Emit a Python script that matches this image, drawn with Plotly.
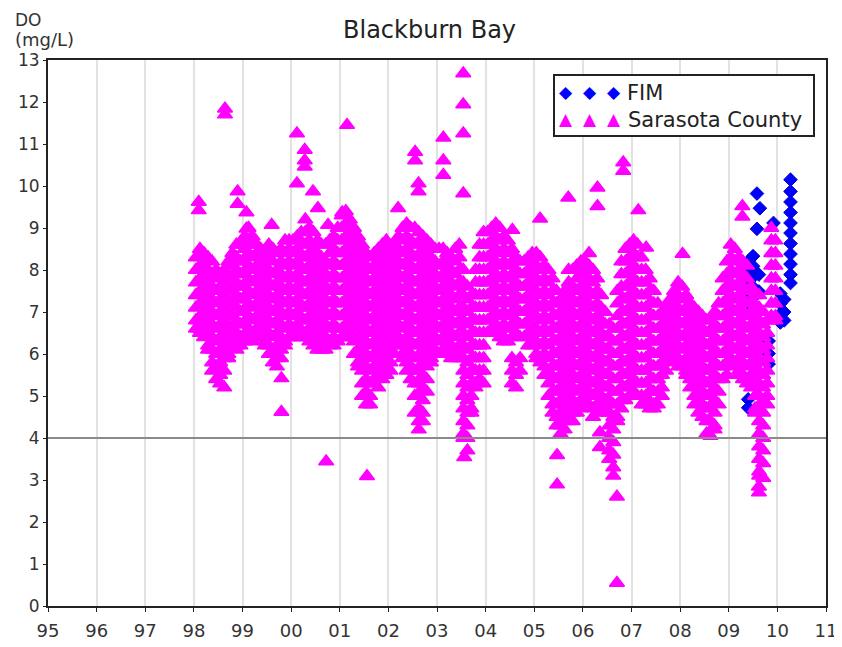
import plotly.graph_objects as go

# ---------------- data ----------------
# Sarasota County: monthly sampling events, DO values (mg/L), Jan..Dec
sc_1998 = ["8.3 8.0 7.7 7.4 7.1 6.8 6.6", "8.5 8.1 7.8 7.5 7.2 6.9 6.6 6.5",
           "8.4 8.2 7.9 7.6 7.3 7.0 6.7 6.4", "8.3 8.0 7.7 7.4 7.1 6.8 6.5 6.2 6.1",
           "8.2 7.9 7.6 7.3 7.0 6.7 6.4 6.1 5.8 5.6", "8.0 7.8 7.5 7.2 6.9 6.6 6.3 6.0 5.7 5.4",
           "7.9 7.6 7.3 7.0 6.7 6.4 6.1 5.8 5.5 5.3", "8.0 7.7 7.4 7.1 6.8 6.5 6.2 5.9 5.6 5.2",
           "8.2 7.8 7.5 7.2 6.9 6.6 6.3 6.0 5.9", "8.4 8.1 7.8 7.5 7.2 6.9 6.6 6.3 6.2",
           "8.6 8.3 8.0 7.7 7.4 7.1 6.8 6.5 6.2 6.1", "8.6 8.2 7.9 7.6 7.3 7.0 6.7 6.4 6.2"]
sc_1999 = ["8.8 8.5 8.2 7.9 7.6 7.3 7.0 6.7 6.4 6.3", "9.0 8.7 8.4 8.1 7.8 7.5 7.2 6.9 6.6 6.4",
           "8.8 8.6 8.3 8.0 7.7 7.4 7.1 6.8 6.5 6.3", "8.6 8.4 8.1 7.8 7.5 7.2 6.9 6.6 6.5",
           "8.5 8.2 7.9 7.6 7.3 7.0 6.7 6.4", "8.4 8.1 7.8 7.5 7.2 6.9 6.6 6.3 6.2",
           "8.6 8.3 8.0 7.7 7.4 7.1 6.8 6.5 6.2 6.0", "8.5 8.2 7.9 7.6 7.3 7.0 6.7 6.4 6.1 5.8",
           "8.4 8.0 7.7 7.4 7.1 6.8 6.5 6.2 5.9 5.7", "8.5 8.2 7.9 7.6 7.3 7.0 6.7 6.4 6.1 5.9",
           "8.7 8.4 8.1 7.8 7.5 7.2 6.9 6.6 6.3 6.2", "8.7 8.5 8.2 7.9 7.6 7.3 7.0 6.7 6.4"]
sc_2000 = ["8.7 8.4 8.1 7.8 7.5 7.2 6.9 6.6 6.4", "8.8 8.5 8.2 7.9 7.6 7.3 7.0 6.7 6.4",
           "8.9 8.6 8.3 8.0 7.7 7.4 7.1 6.8 6.5 6.4", "9.2 8.9 8.6 8.3 8.0 7.7 7.4 7.1 6.8 6.5 6.4",
           "9.0 8.7 8.4 8.1 7.8 7.5 7.2 6.9 6.6 6.3", "8.9 8.5 8.2 7.9 7.6 7.3 7.0 6.7 6.4 6.2",
           "8.7 8.4 8.1 7.8 7.5 7.2 6.9 6.6 6.3 6.1", "8.6 8.3 8.0 7.7 7.4 7.1 6.8 6.5 6.2 6.1",
           "8.6 8.2 7.9 7.6 7.3 7.0 6.7 6.4 6.1", "8.7 8.4 8.1 7.8 7.5 7.2 6.9 6.6 6.3 6.2",
           "8.8 8.5 8.2 7.9 7.6 7.3 7.0 6.7 6.4 6.2", "9.0 8.7 8.4 8.1 7.8 7.5 7.2 6.9 6.6 6.3"]
sc_2001 = ["9.3 9.0 8.7 8.4 8.1 7.8 7.5 7.2 6.9 6.6 6.4", "9.4 9.1 8.8 8.5 8.2 7.9 7.6 7.3 7.0 6.7 6.4",
           "9.2 8.9 8.6 8.3 8.0 7.7 7.4 7.1 6.8 6.5 6.4", "9.0 8.7 8.4 8.1 7.8 7.5 7.2 6.9 6.6 6.3 6.0",
           "8.8 8.5 8.2 7.9 7.6 7.3 7.0 6.7 6.4 6.1 5.8 5.7",
           "8.6 8.3 8.0 7.7 7.4 7.1 6.8 6.5 6.2 5.9 5.6 5.3 5.0",
           "8.4 8.1 7.8 7.5 7.2 6.9 6.6 6.3 6.0 5.7 5.4 5.1 4.8",
           "8.3 8.0 7.7 7.4 7.1 6.8 6.5 6.2 5.9 5.6 5.3 5.0 4.8",
           "8.4 8.1 7.8 7.5 7.2 6.9 6.6 6.3 6.0 5.7 5.4 5.3",
           "8.5 8.2 7.9 7.6 7.3 7.0 6.7 6.4 6.1 5.8 5.5 5.2",
           "8.6 8.3 8.0 7.7 7.4 7.1 6.8 6.5 6.2 5.9 5.6 5.4",
           "8.7 8.4 8.1 7.8 7.5 7.2 6.9 6.6 6.3 6.0 5.7 5.5"]
sc_2002 = ["8.5 8.2 7.9 7.6 7.3 7.0 6.7 6.4 6.1 5.8 5.6", "8.6 8.3 8.0 7.7 7.4 7.1 6.8 6.5 6.2 6.0",
           "8.8 8.5 8.2 7.9 7.6 7.3 7.0 6.7 6.4 6.2", "9.0 8.7 8.4 8.1 7.8 7.5 7.2 6.9 6.6 6.3 6.0 5.9",
           "9.1 8.8 8.5 8.2 7.9 7.6 7.3 7.0 6.7 6.4 6.1 5.8 5.6",
           "9.0 8.7 8.4 8.1 7.8 7.5 7.2 6.9 6.6 6.3 6.0 5.7 5.4",
           "9.0 8.6 8.3 8.0 7.7 7.4 7.1 6.8 6.5 6.2 5.9 5.6 5.3 5.0 4.6",
           "8.9 8.6 8.3 8.0 7.7 7.4 7.1 6.8 6.5 6.2 5.9 5.6 5.3 5.0 4.7 4.4 4.2",
           "8.8 8.5 8.2 7.9 7.6 7.3 7.0 6.7 6.4 6.1 5.8 5.5 5.2 4.9 4.6 4.4",
           "8.7 8.4 8.1 7.8 7.5 7.2 6.9 6.6 6.3 6.0 5.7 5.4 5.1",
           "8.6 8.3 8.0 7.7 7.4 7.1 6.8 6.5 6.2 5.9 5.8", "8.5 8.2 7.9 7.6 7.3 7.0 6.7 6.4 6.1 6.0"]
sc_2003 = ["8.5 8.1 7.8 7.5 7.2 6.9 6.6 6.3 6.0", "8.5 8.2 7.9 7.6 7.3 7.0 6.7 6.4 6.1 6.0",
           "8.4 8.1 7.8 7.5 7.2 6.9 6.6 6.3 6.0", "8.3 8.0 7.7 7.4 7.1 6.8 6.5 6.2 5.9",
           "8.5 8.2 7.9 7.6 7.3 7.0 6.7 6.4 6.1 5.9", "8.6 8.3 8.0 7.7 7.4 7.1 6.8 6.5 6.2 5.9",
           "8.0 7.7 7.4 7.1 6.8 6.5 6.2 5.9 5.6 5.3 5.0 4.7 4.4 4.1 4.0",
           "7.6 7.3 7.0 6.7 6.4 6.1 5.8 5.5 5.2 4.9 4.6 4.3 4.0 3.7",
           "7.4 7.1 6.8 6.5 6.2 5.9 5.6 5.3 5.0 4.7 4.6", "8.0 7.7 7.4 7.1 6.8 6.5 6.2 5.9 5.6 5.3 5.2",
           "8.6 8.3 8.0 7.7 7.4 7.1 6.8 6.5 6.2 5.9 5.6 5.4",
           "8.9 8.6 8.3 8.0 7.7 7.4 7.1 6.8 6.5 6.2 5.9 5.6 5.3"]
sc_2004 = ["8.9 8.6 8.3 8.0 7.7 7.4 7.1 6.8 6.5", "9.0 8.7 8.4 8.1 7.8 7.5 7.2 6.9 6.6 6.5",
           "9.1 8.8 8.5 8.2 7.9 7.6 7.3 7.0 6.7 6.5", "9.0 8.7 8.4 8.1 7.8 7.5 7.2 6.9 6.6 6.4",
           "8.8 8.5 8.2 7.9 7.6 7.3 7.0 6.7 6.4 6.3", "8.7 8.4 8.1 7.8 7.5 7.2 6.9 6.6 6.3",
           "8.5 8.2 7.9 7.6 7.3 7.0 6.7 6.4 5.9 5.6 5.3", "8.3 8.0 7.7 7.4 7.1 6.8 6.5 5.8 5.5 5.2",
           "8.2 7.9 7.6 7.3 7.0 6.7 6.4 5.9 5.6", "8.2 7.9 7.6 7.3 7.0 6.7 6.4",
           "8.3 8.0 7.7 7.4 7.1 6.8 6.5 6.2", "8.4 8.1 7.8 7.5 7.2 6.9 6.6 6.3 6.2"]
sc_2005 = ["8.4 8.1 7.8 7.5 7.2 6.9 6.6 6.3 6.0 5.9", "8.3 8.0 7.7 7.4 7.1 6.8 6.5 6.2 5.9 5.8",
           "8.1 7.8 7.5 7.2 6.9 6.6 6.3 6.0 5.7 5.5", "8.0 7.7 7.4 7.1 6.8 6.5 6.2 5.9 5.6 5.3 5.0",
           "7.8 7.5 7.2 6.9 6.6 6.3 6.0 5.7 5.4 5.1 4.8 4.6",
           "7.5 7.2 6.9 6.6 6.3 6.0 5.7 5.4 5.1 4.8 4.5 4.3",
           "7.3 7.0 6.7 6.4 6.1 5.8 5.5 5.2 4.9 4.6 4.3 4.1",
           "7.5 7.2 6.9 6.6 6.3 6.0 5.7 5.4 5.1 4.8 4.5 4.2",
           "8.0 7.7 7.4 7.1 6.8 6.5 6.2 5.9 5.6 5.3 5.0 4.7 4.4",
           "8.0 7.6 7.3 7.0 6.7 6.4 6.1 5.8 5.5 5.2 4.9 4.6 4.4",
           "8.1 7.8 7.5 7.2 6.9 6.6 6.3 6.0 5.7 5.4 5.1 4.8 4.6",
           "8.2 7.9 7.6 7.3 7.0 6.7 6.4 6.1 5.8 5.5 5.2 4.9 4.7"]
sc_2006 = ["8.2 7.9 7.6 7.3 7.0 6.7 6.4 6.1 5.8 5.5 5.2 5.0",
           "8.4 8.1 7.8 7.5 7.2 6.9 6.6 6.3 6.0 5.7 5.4 5.1 4.8",
           "8.0 7.7 7.4 7.1 6.8 6.5 6.2 5.9 5.6 5.3 5.0 4.7 4.5",
           "7.8 7.5 7.2 6.9 6.6 6.3 6.0 5.7 5.4 5.1 4.8 4.6",
           "7.4 7.1 6.8 6.5 6.2 5.9 5.6 5.3 5.0 4.7 4.6", "7.0 6.7 6.4 6.1 5.8 5.5 5.2 4.9 4.7",
           "6.7 6.4 6.1 5.8 5.5 5.2 4.9 4.6 4.3 4.0 3.7 3.5",
           "6.6 6.3 6.0 5.7 5.4 5.1 4.8 4.5 4.2 3.9 3.6 3.3 3.1",
           "7.5 7.2 6.9 6.6 6.3 6.0 5.7 5.4 5.1 4.8 4.5 4.4",
           "8.2 7.9 7.6 7.3 7.0 6.7 6.4 6.1 5.8 5.5 5.2 4.9 4.7",
           "8.5 8.2 7.9 7.6 7.3 7.0 6.7 6.4 6.1 5.8 5.5 5.2 4.9",
           "8.6 8.3 8.0 7.7 7.4 7.1 6.8 6.5 6.2 5.9 5.6 5.3 5.0"]
sc_2007 = ["8.7 8.4 8.1 7.8 7.5 7.2 6.9 6.6 6.3 6.0 5.7 5.4 5.1",
           "8.6 8.3 8.0 7.7 7.4 7.1 6.8 6.5 6.2 5.9 5.6 5.3 5.0",
           "8.3 8.0 7.7 7.4 7.1 6.8 6.5 6.2 5.9 5.6 5.3 5.0 4.8",
           "8.0 7.7 7.4 7.1 6.8 6.5 6.2 5.9 5.6 5.3 5.0 4.8",
           "7.8 7.5 7.2 6.9 6.6 6.3 6.0 5.7 5.4 5.1 4.8 4.7",
           "7.5 7.2 6.9 6.6 6.3 6.0 5.7 5.4 5.1 4.8 4.7",
           "7.2 6.9 6.6 6.3 6.0 5.7 5.4 5.1 4.8", "7.0 6.7 6.4 6.1 5.8 5.5 5.2 5.0",
           "7.1 6.8 6.5 6.2 5.9 5.6", "7.3 7.0 6.7 6.4 6.1 5.8",
           "7.5 7.2 6.9 6.6 6.3 6.0 5.9", "7.7 7.4 7.1 6.8 6.5 6.2 5.9 5.7"]
sc_2008 = ["7.6 7.3 7.0 6.7 6.4 6.1 5.8 5.7", "7.4 7.1 6.8 6.5 6.2 5.9 5.6 5.5",
           "7.2 6.9 6.6 6.3 6.0 5.7 5.4 5.2", "7.1 6.8 6.5 6.2 5.9 5.6 5.3 5.0 4.8",
           "7.0 6.7 6.4 6.1 5.8 5.5 5.2 4.9 4.6", "6.9 6.6 6.3 6.0 5.7 5.4 5.1 4.8 4.5",
           "6.8 6.5 6.2 5.9 5.6 5.3 5.0 4.7 4.4 4.1", "6.8 6.5 6.2 5.9 5.6 5.3 5.0 4.7 4.4 4.05",
           "7.0 6.7 6.4 6.1 5.8 5.5 5.2 4.9 4.6 4.3 4.2", "7.2 6.9 6.6 6.3 6.0 5.7 5.4 5.1 4.8",
           "7.8 7.5 7.2 6.9 6.6 6.3 6.0 5.7 5.4", "8.2 7.9 7.6 7.3 7.0 6.7 6.4 6.1 5.8 5.5"]
sc_2009 = ["8.6 8.3 8.0 7.7 7.4 7.1 6.8 6.5 6.2 5.9 5.8", "8.5 8.2 7.9 7.6 7.3 7.0 6.7 6.4 6.1 5.8 5.7",
           "8.3 8.0 7.7 7.4 7.1 6.8 6.5 6.2 5.9 5.6 5.5", "8.2 7.9 7.6 7.3 7.0 6.7 6.4 6.1 5.8 5.5 5.4",
           "8.1 7.8 7.5 7.2 6.9 6.6 6.3 6.0 5.7 5.4 5.3", "7.6 7.3 7.0 6.7 6.4 6.1 5.8 5.5 5.2",
           "7.4 7.1 6.8 6.5 6.2 5.9 5.6 5.3 5.0 4.7 4.6",
           "7.4 7.1 6.8 6.5 6.2 5.9 5.6 5.3 5.0 4.7 4.4 4.1 3.8 3.5 3.2 3.1",
           "7.0 6.7 6.4 6.1 5.8 5.5 5.2 4.9 4.6 4.3 4.0 3.7 3.4 3.05",
           "6.8 6.5 6.2 5.9 5.6 5.3 5.0 4.8",
           "9.0 8.7 8.4 8.1 7.8 7.5 7.2 6.9 6.8", "8.7 8.4 8.1 7.8 7.5 7.2 6.9 6.8"]
sc_years = [1998, 1999, 2000, 2001, 2002, 2003, 2004, 2005, 2006, 2007, 2008, 2009]
sc_by_year = [sc_1998, sc_1999, sc_2000, sc_2001, sc_2002, sc_2003,
              sc_2004, sc_2005, sc_2006, sc_2007, sc_2008, sc_2009]

# Sarasota County isolated readings (decimal year, DO)
sc_extra_t = [1998.10, 1998.10, 1998.64, 1998.64, 1998.90, 1998.90, 1999.08, 1999.08, 1999.60,
              1999.80, 1999.80, 2000.12, 2000.12, 2000.28, 2000.28, 2000.28, 2000.45, 2000.55,
              2000.76, 2000.72, 2001.05, 2001.15, 2001.56, 2002.20, 2002.55, 2002.55, 2002.62,
              2002.62, 2003.13, 2003.13, 2003.13, 2003.54, 2003.54, 2003.54, 2003.54, 2003.56,
              2004.55, 2005.12, 2005.47, 2005.47, 2005.70, 2006.30, 2006.30, 2006.35, 2006.35,
              2006.70, 2006.70, 2006.83, 2006.83, 2007.14, 2007.30, 2008.05, 2009.28, 2009.28,
              2009.62, 2009.62]
sc_extra_v = [9.62, 9.42, 11.84, 11.70, 9.87, 9.57, 9.37, 8.98, 9.07,
              5.42, 4.62, 11.25, 10.06, 10.86, 10.61, 10.46, 9.87, 9.47,
              9.07, 3.44, 9.37, 11.45, 3.09, 9.47, 10.81, 10.61, 10.06,
              9.87, 11.15, 10.61, 10.26, 12.68, 11.94, 11.25, 9.82, 3.54,
              8.95, 9.22, 3.59, 2.89, 9.72, 9.96, 9.52, 4.13, 3.78,
              2.60, 0.55, 10.56, 10.36, 9.42, 8.53, 8.38, 9.52, 9.27,
              2.70, 2.84]

# FIM readings (decimal year, DO)
fim_t = [2009.40, 2009.40, 2009.42, 2009.42, 2009.42, 2009.42, 2009.42,
         2009.50, 2009.50, 2009.50, 2009.50, 2009.50, 2009.50,
         2009.58, 2009.58, 2009.64, 2009.62, 2009.62, 2009.82, 2009.82, 2009.82, 2009.92,
         2010.06, 2010.06, 2010.06, 2010.06, 2010.14, 2010.14, 2010.14,
         2010.27, 2010.27, 2010.27, 2010.27, 2010.27, 2010.27, 2010.27, 2010.27, 2010.27,
         2010.27, 2010.27]
fim_v = [4.92, 4.72, 8.23, 7.99, 7.74, 7.44, 7.20,
         8.33, 8.09, 7.84, 7.59, 7.34, 7.10,
         9.82, 8.98, 9.47, 7.89, 7.49, 6.31, 6.01, 5.76, 9.12,
         7.44, 7.20, 6.95, 6.75, 7.30, 7.00, 6.80,
         10.15, 9.87, 9.62, 9.37, 9.12, 8.88, 8.63, 8.38, 8.14,
         7.89, 7.69]

year_ticks = list(range(1995, 2012))
year_labels = ["95", "96", "97", "98", "99", "00", "01", "02", "03", "04",
               "05", "06", "07", "08", "09", "10", "11"]
do_ticks = list(range(0, 14))
threshold = 4

# ---------------- build series ----------------
sc_t, sc_v = [], []
for yr, months in zip(sc_years, sc_by_year):
    for m, s in enumerate(months):
        for v in s.split():
            sc_t.append(yr + (m + 0.5) / 12.0)
            sc_v.append(float(v))
sc_t += sc_extra_t
sc_v += sc_extra_v

FONT = "DejaVu Sans, Verdana, sans-serif"
OFF = 8                       # page body margin
W, H = 834, 639
PL, PR, PT, PB = 48, 826, 60, 606   # plot area in page pixels
L, R, T, B = PL - OFF, W - (PR - OFF), PT - OFF, H - (PB - OFF)
pw, ph = PR - PL, PB - PT

def px_x(x):  # page pixel -> paper
    return (x - PL) / pw

def px_y(y):
    return (PB - y) / ph

fig = go.Figure()
fig.add_trace(go.Scatter(
    x=fim_t, y=fim_v, mode="markers", name="FIM", showlegend=False,
    marker=dict(symbol="diamond", size=10.5, color="#0000FF",
                line=dict(color="#0000CC", width=1))))
fig.add_trace(go.Scatter(
    x=sc_t, y=sc_v, mode="markers", name="Sarasota County", showlegend=False,
    marker=dict(symbol="triangle-up", size=13, color="#FF00FF",
                line=dict(color="#FF00FF", width=1.5))))

fig.update_layout(
    width=W, height=H, margin=dict(l=L, r=R, t=T, b=B),
    paper_bgcolor="white", plot_bgcolor="white",
    font=dict(family=FONT, size=18, color="#333333"),
    showlegend=False,
    xaxis=dict(range=[1995, 2011], tickvals=year_ticks, ticktext=year_labels,
               showgrid=True, gridcolor="#E2E2E2", gridwidth=2, zeroline=False,
               showline=True, linecolor="#222222", linewidth=2, mirror=True,
               ticks="outside", ticklen=4, tickcolor="#222222", automargin=False,
               ticklabelstandoff=3,
               tickfont=dict(family=FONT, size=18, color="#333333")),
    yaxis=dict(range=[0, 13], tickvals=do_ticks, showgrid=False, zeroline=False,
               showline=True, linecolor="#222222", linewidth=2, mirror=True,
               ticks="outside", ticklen=3, tickcolor="#222222", automargin=False,
               tickfont=dict(family=FONT, size=17, color="#333333")),
)

fig.add_hline(y=threshold, line=dict(color="#8A8A8A", width=2), layer="above")

def note(text, x, y, size, color="#222222", xanchor="left", family=FONT):
    return dict(text=text, x=px_x(x), y=px_y(y), xref="paper", yref="paper",
                xanchor=xanchor, yanchor="middle", showarrow=False,
                font=dict(family=family, size=size, color=color))

ann = [
    note("Blackburn Bay", 429, 30, 24, xanchor="center"),
    note("DO", 13, 20, 17, color="#333333"),
    note("(mg/L)", 13, 40, 18, color="#333333"),
    note("FIM", 625, 93, 21),
    note("Sarasota County", 626, 120, 21),
]
for gx in (566, 590, 614):
    ann.append(note("◆", gx, 92, 17, color="#0000FF", xanchor="center"))
    ann.append(note("▲", gx, 119, 17, color="#FF00FF", xanchor="center"))
fig.update_layout(annotations=ann)
fig.add_shape(type="rect", xref="paper", yref="paper",
              x0=px_x(554), x1=px_x(814), y0=px_y(136), y1=px_y(75),
              line=dict(color="#222222", width=2), fillcolor="white", layer="above")

fig.write_html("out.html")
